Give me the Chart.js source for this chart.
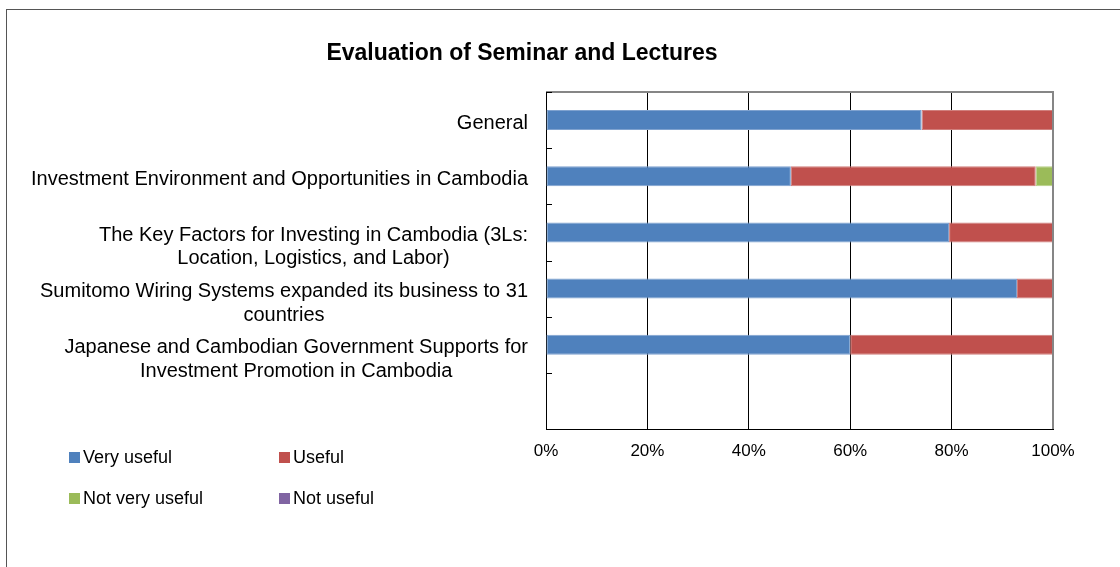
<!DOCTYPE html>
<html>
<head>
<meta charset="utf-8">
<title>Evaluation of Seminar and Lectures</title>
<script src="https://cdn.jsdelivr.net/npm/chart.js@4/dist/chart.umd.min.js"></script>
<style>
  html, body { margin: 0; padding: 0; background: #fff; overflow: hidden; }
  body { width: 1120px; height: 567px; position: relative; font-family: "Liberation Sans", Arial, sans-serif; }
  #frame { position: absolute; left: 6px; top: 9px; width: 1200px; height: 700px; border-left: 1px solid #555; border-top: 1px solid #555; }
  #chart { position: absolute; left: -9px; top: 0; }
  #legend { position: absolute; left: 69px; top: 447px; display: grid; grid-template-columns: 210px 210px; row-gap: 20px; }
  .legend-item { display: flex; align-items: center; font-size: 18px; color: #000; height: 21px; }
  .legend-box { width: 11px; height: 11px; margin-right: 3px; }
</style>
</head>
<body>
<div id="frame"></div>
<canvas id="chart" width="1129" height="567"></canvas>
<div id="legend"></div>
<script>
// ========================================
// Seminar evaluation, 100% stacked bars
// ========================================
const categories = [
  'General',
  'Investment Environment and Opportunities in Cambodia',
  ['The Key Factors for Investing in Cambodia (3Ls:', 'Location, Logistics, and Labor)'],
  ['Sumitomo Wiring Systems expanded its business to 31', 'countries'],
  ['Japanese and Cambodian Government Supports for', 'Investment Promotion in Cambodia'],
  ''
];

// share of answers, percent
const veryUseful    = [74.1, 48.3, 79.5, 92.9, 60.0, null];
const useful        = [25.9, 48.3, 20.5,  7.1, 40.0, null];
const notVeryUseful = [ 0.0,  3.4,  0.0,  0.0,  0.0, null];
const notUseful     = [ 0.0,  0.0,  0.0,  0.0,  0.0, null];

const seriesNames = ['Very useful', 'Useful', 'Not very useful', 'Not useful'];
const xTicks = [0, 20, 40, 60, 80, 100];

const FONT = '"Liberation Sans", Arial, sans-serif';
const colors = ['#4F81BD', '#C0504D', '#9BBB59', '#8064A2'];
const edgeColors = ['#7fa2cf', '#d07f7d', '#b6cf86', '#a08cc0'];

// category names: block right aligned, lines centred inside the block
const categoryLabels = {
  id: 'categoryLabels',
  afterDraw(chart) {
    const { ctx, chartArea, scales: { y } } = chart;
    ctx.save();
    ctx.font = '20px ' + FONT;
    ctx.fillStyle = '#000';
    ctx.textAlign = 'center';
    ctx.textBaseline = 'middle';
    const right = chartArea.left - 18;
    categories.forEach((label, i) => {
      const lines = [].concat(label).filter(s => s);
      if (!lines.length) return;
      const w = Math.max(...lines.map(l => ctx.measureText(l).width));
      const cy = y.getPixelForValue(i) + 3;
      lines.forEach((l, k) => ctx.fillText(l, right - w / 2, cy + k * 23.5));
    });
    ctx.restore();
  }
};

// grey frame on top/right, short inner ticks between categories
const plotFrame = {
  id: 'plotFrame',
  afterDatasetsDraw(chart) {
    const { ctx, chartArea: a, scales: { y } } = chart;
    ctx.save();
    ctx.strokeStyle = '#868686';
    ctx.lineWidth = 2;
    ctx.beginPath();
    ctx.moveTo(a.left, a.top);
    ctx.lineTo(a.right, a.top);
    ctx.lineTo(a.right, a.bottom);
    ctx.stroke();

    ctx.strokeStyle = '#000';
    ctx.lineWidth = 1;
    ctx.beginPath();
    for (let i = 0; i <= categories.length; i++) {
      const py = Math.round(y.getPixelForValue(i - 0.5)) + 0.5;
      ctx.moveTo(a.left, py);
      ctx.lineTo(a.left + 6, py);
    }
    ctx.stroke();
    ctx.restore();
  }
};

const seriesData = [veryUseful, useful, notVeryUseful, notUseful];

const chart = new Chart(document.getElementById('chart'), {
  type: 'bar',
  data: {
    labels: categories,
    datasets: seriesNames.map((name, i) => ({
      label: name,
      data: seriesData[i],
      backgroundColor: colors[i],
      borderColor: edgeColors[i],
      borderWidth: 1,
      borderSkipped: false,
      categoryPercentage: 1,
      barPercentage: 0.356,
    }))
  },
  options: {
    indexAxis: 'y',
    responsive: false,
    animation: false,
    events: [],
    layout: { padding: { left: 0, right: 67, top: 0, bottom: 0 } },
    plugins: {
      legend: { display: false },
      tooltip: { enabled: false },
      title: {
        display: true,
        text: 'Evaluation of Seminar and Lectures',
        color: '#000',
        font: { family: FONT, size: 23, weight: 'bold', lineHeight: 1.2 },
        padding: { top: 40, bottom: 24.4 },
      }
    },
    scales: {
      x: {
        stacked: true,
        min: 0,
        max: 100,
        afterBuildTicks: (scale) => { scale.ticks = xTicks.map(v => ({ value: v })); },
        ticks: {
          color: '#000',
          padding: 12,
          font: { family: FONT, size: 17 },
          callback: (v) => v + '%',
        },
        grid: {
          drawTicks: false,
          color: (c) => (c.tick && c.tick.value === 100) ? 'rgba(0,0,0,0)' : '#000',
          lineWidth: 1,
        },
        border: { color: '#000', width: 1 },
        afterFit: (scale) => { scale.height = 138; },
      },
      y: {
        stacked: true,
        ticks: { display: false },
        grid: { display: false, drawTicks: false },
        border: { color: '#000', width: 1 },
        afterFit: (scale) => { scale.width = 555; },
      }
    }
  },
  plugins: [categoryLabels, plotFrame]
});

// legend in two columns, built from the chart's datasets
const legendEl = document.getElementById('legend');
legendEl.innerHTML = chart.data.datasets.map(ds => `
  <div class="legend-item">
    <span class="legend-box" style="background:${ds.backgroundColor}"></span>${ds.label}
  </div>
`).join('');
</script>
</body>
</html>
